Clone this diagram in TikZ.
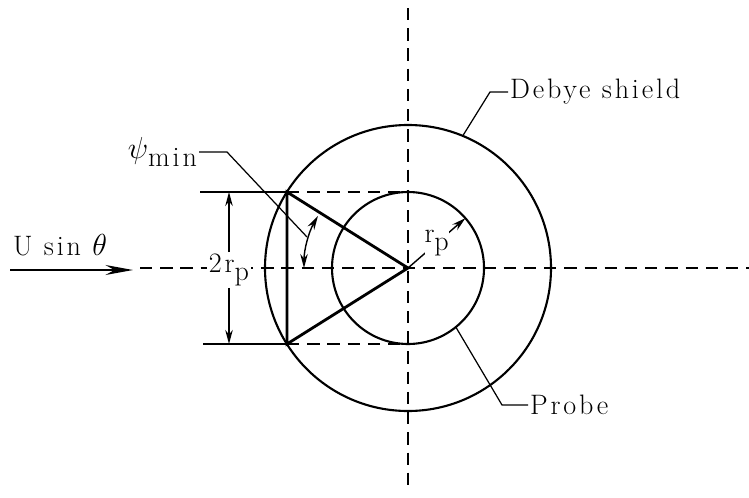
\documentclass[tikz,border=0pt]{standalone}
\usepackage{fontspec}
\newfontfamily\lblfont[LetterSpace=10]{Latin Modern Roman}
\usepackage{tikz}
\usetikzlibrary{arrows.meta, positioning, calc}
\newcommand{\lowtxt}[1]{\raisebox{-0.6ex}{#1}}
\tikzset{
    axis/.style={dash pattern=on 7pt off 4.5pt, line width=0.8pt},
    ring/.style={line width=1.2pt},
    geom/.style={line width=1.6pt},
    leader/.style={line width=0.7pt},
    arrow/.style={-{Stealth[length=2.8mm, width=1.5mm]}, line width=0.8pt},
    twoarrow/.style={{Stealth[length=2.8mm, width=1.5mm]}-{Stealth[length=2.8mm, width=1.5mm]}, line width=0.8pt},
    flowarrow/.style={-{Stealth[length=5.5mm, width=2mm]}, line width=1pt},
    lbl/.style={font=\lblfont\fontsize{16}{18}\selectfont, inner sep=1pt},
}

\begin{document}
\begin{tikzpicture}[x=0.02cm, y=-0.02cm]
    \useasboundingbox (0,0) rectangle (749,497);

    % Centre, shield and probe
    \coordinate (O) at (408,268);
    \draw[ring] (O) circle[radius=143];
    \draw[ring] (O) circle[radius=76];

    % Axes
    \coordinate (axW) at (140,268);
    \coordinate (axE) at (749,268);
    \coordinate (axN) at (408,8);
    \coordinate (axS) at (408,492);
    \draw[axis] (axW) -- (axE);
    \draw[axis] (axN) -- (axS);

    % Chord on the shield
    \coordinate (top) at (287,192);
    \coordinate (bot) at (287,344);
    \draw[axis] (top) -- (O |- top);
    \draw[axis] (bot) -- (O |- bot);
    \draw[geom] (top) -- (O) -- (bot) -- cycle;

    % Dimension 2r_p
    \coordinate (extT) at (200,192);
    \coordinate (extB) at (203,344);
    \draw[leader] (extT) -- (top);
    \draw[leader] (extB) -- (bot);
    \node[lbl, fill=white] (dimlbl) at (229,270) {2r\lowtxt{p}};
    \coordinate (dimT) at (dimlbl |- top);
    \coordinate (dimB) at (dimlbl |- bot);
    \draw[arrow] (dimlbl.north) -- (dimT);
    \draw[arrow] (dimlbl.south) -- (dimB);

    % Angle psi_min
    \draw[twoarrow] ($(O)+(180:104)$) arc[start angle=180, end angle=210, radius=104];
    \node[lbl, anchor=east] (psilbl) at (199,152) {$\psi$\lowtxt{min}};
    \coordinate (psiend) at (307,237);
    \draw[leader] (psilbl.east) -- ++(28,0) -- (psiend);

    % Radius r_p
    \draw[arrow] (O) -- node[lbl, fill=white, inner sep=0pt] (rplbl) {r\lowtxt{p}} ($(O)+(-41:76)$);

    % Labels
    \node[lbl, anchor=west] (debyelbl) at (508,92) {Debye shield};
    \coordinate (debyept) at ($(O)+(-67.5:143)$);
    \draw[leader] (debyelbl.west) -- ++(-18,0) -- (debyept);

    \node[lbl, anchor=west] (probelbl) at (528,405) {Probe};
    \coordinate (probept) at ($(O)+(51:76)$);
    \draw[leader] (probelbl.west) -- ++(-26,0) -- (probept);

    % Flow
    \node[lbl] (flowlbl) at (60,245) {U sin $\theta$};
    \coordinate (flowW) at (10,270);
    \coordinate (flowE) at (133,270);
    \draw[flowarrow] (flowW) -- (flowE);
\end{tikzpicture}
\end{document}
